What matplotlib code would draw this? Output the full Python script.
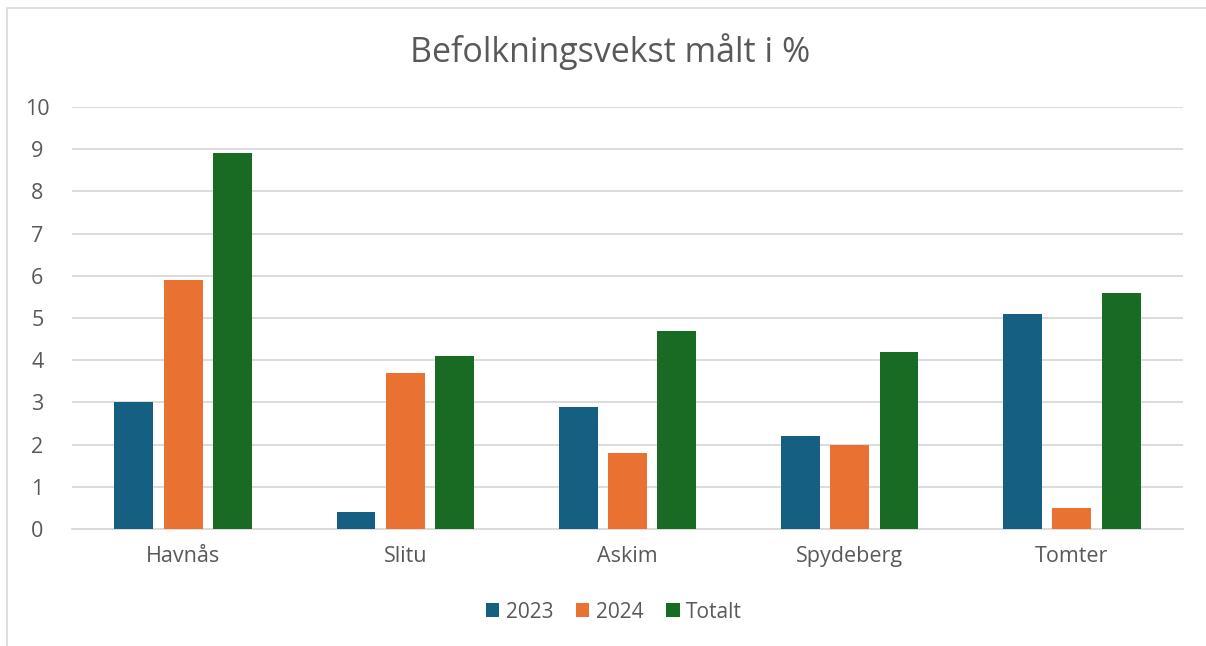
import numpy as np
import matplotlib.pyplot as plt
from matplotlib.patches import Rectangle

# Data
categories = ["Havnås", "Slitu", "Askim", "Spydeberg", "Tomter"]
series_names = ["2023", "2024", "Totalt"]
values_2023 = [3.0, 0.4, 2.9, 2.2, 5.1]
values_2024 = [5.9, 3.7, 1.8, 2.0, 0.5]
values_total = [8.9, 4.1, 4.7, 4.2, 5.6]
colors = ["#156082", "#E97132", "#196B24"]

plt.rcParams["font.family"] = ["Open Sans", "DejaVu Sans"]
text_color = "#595959"
grid_color = "#D9D9D9"

fig = plt.figure(figsize=(12.06, 6.46), dpi=100)
ax = fig.add_axes([72 / 1206, 1 - 529 / 646, (1183 - 72) / 1206, (529 - 107) / 646])

# chart border (left and top visible)
fig.add_artist(Rectangle((7 / 1206, -0.01), 1.1, 1 - 8 / 646 + 0.01,
                         transform=fig.transFigure, fill=False,
                         edgecolor=grid_color, linewidth=1.2))

x = np.arange(len(categories))
width = 0.175
offset = 0.222
all_values = [values_2023, values_2024, values_total]
for i, (name, vals) in enumerate(zip(series_names, all_values)):
    ax.bar(x + (i - 1) * offset, vals, width, color=colors[i], label=name, zorder=3)

ax.set_xlim(-0.5, len(categories) - 0.5)
ax.set_ylim(0, 10)
ax.set_yticks(range(0, 11))
ax.set_xticks(x)
ax.set_xticklabels(categories)
ax.yaxis.grid(True, color=grid_color, linewidth=1.3, zorder=0)
ax.set_axisbelow(True)
for side in ["top", "right", "left"]:
    ax.spines[side].set_visible(False)
ax.spines["bottom"].set_color(grid_color)
ax.spines["bottom"].set_linewidth(1.3)
ax.tick_params(axis="both", length=0, labelsize=15.5, colors=text_color)
ax.tick_params(axis="x", pad=12)
ax.tick_params(axis="y", pad=25)
for lbl in ax.get_yticklabels():
    lbl.set_horizontalalignment("center")

fig.text(0.506, 1 - 52 / 646, "Befolkningsvekst målt i %", ha="center", va="center",
         fontsize=24.5, color=text_color)

leg = fig.legend(loc="center", bbox_to_anchor=(0.509, 1 - 612 / 646), ncol=3,
                 frameon=False, fontsize=15, handlelength=0.65, handleheight=0.65,
                 handletextpad=0.3, columnspacing=1.1)
for t in leg.get_texts():
    t.set_color(text_color)

fig.savefig("out.png", dpi=100)
